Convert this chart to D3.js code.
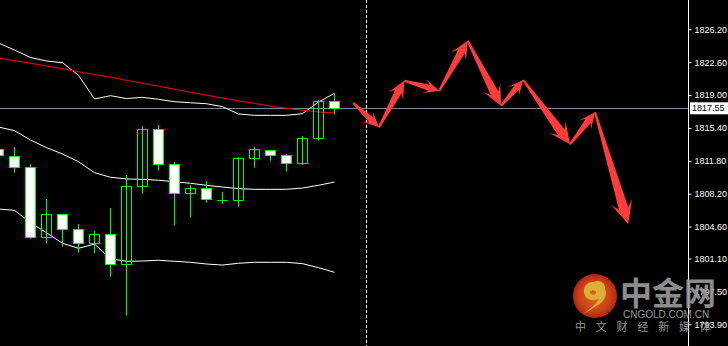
<!DOCTYPE html>
<html>
<head>
<meta charset="utf-8">
<script src="https://cdn.jsdelivr.net/npm/d3@7"></script>
<style>
  body { margin: 0; background: #000; }
  svg { display: block; }
</style>
</head>
<body>
<div id="chart"></div>
<script>
var width = 728,
  height = 346,
  axisX = 688.5;

// hourly bars, oldest first
var opens  = [1813.06, 1812.29, 1811.09, 1803.43, 1805.94, 1804.30, 1802.83, 1803.79, 1800.55, 1809.04, 1815.25,
              1811.42, 1808.24, 1808.79, 1807.54, 1807.48, 1812.08, 1812.95, 1812.40, 1811.53, 1814.27, 1818.32];
var highs  = [1813.20, 1813.31, 1811.42, 1807.62, 1805.94, 1804.88, 1804.12, 1806.63, 1810.25, 1815.61, 1815.72,
              1811.67, 1809.12, 1809.59, 1808.39, 1812.19, 1813.31, 1812.95, 1812.55, 1814.52, 1818.46, 1819.19];
var lows   = [1812.22, 1810.50, 1803.27, 1802.77, 1802.40, 1801.74, 1801.67, 1799.11, 1794.84, 1808.20, 1810.72,
              1804.70, 1805.57, 1807.21, 1807.10, 1806.78, 1811.05, 1811.81, 1810.61, 1811.37, 1814.00, 1816.85];
var closes = [1812.40, 1811.09, 1803.43, 1805.94, 1804.30, 1802.83, 1803.79, 1800.47, 1809.04, 1815.25, 1811.42,
              1808.24, 1808.79, 1807.59, 1807.54, 1812.08, 1813.06, 1812.40, 1811.53, 1814.27, 1818.32, 1817.55];

// bollinger bands + long moving average, one value per bar
var bandUpper = [1824.70, 1823.93, 1823.11, 1822.73, 1822.54, 1821.16, 1818.57, 1818.93, 1818.62, 1818.75, 1818.54,
                 1818.27, 1818.16, 1818.05, 1817.73, 1816.93, 1816.78, 1816.78, 1816.78, 1816.96, 1818.24, 1819.19];
var bandMid   = [1815.50, 1815.10, 1814.08, 1813.24, 1812.55, 1811.70, 1810.50, 1810.00, 1809.81, 1809.78, 1809.67,
                 1809.51, 1809.34, 1809.12, 1808.93, 1808.75, 1808.68, 1808.68, 1808.68, 1808.82, 1809.12, 1809.48];
var bandLower = [1806.52, 1806.38, 1805.03, 1803.93, 1802.77, 1802.22, 1802.69, 1801.08, 1800.80, 1800.83, 1800.91,
                 1800.80, 1800.69, 1800.50, 1800.39, 1800.58, 1800.69, 1800.69, 1800.69, 1800.54, 1800.10, 1799.59];
var maRed     = [1823.06, 1822.76, 1822.48, 1822.18, 1821.88, 1821.56, 1821.25, 1820.94, 1820.62, 1820.29, 1819.96,
                 1819.63, 1819.30, 1818.98, 1818.68, 1818.37, 1818.08, 1817.80, 1817.55, 1817.33, 1817.14, 1817.04];

var lastPrice = 1817.55;
var priceTicks = [1826.20, 1822.60, 1819.00, 1815.40, 1811.80, 1808.20, 1804.60, 1801.10, 1797.50, 1793.90];
var separatorBar = 23;

// hand drawn forecast zigzag (bar position, price)
var forecastBars   = [22.16, 23.78, 25.36, 27.55, 29.32, 31.41, 32.80, 35.72, 37.28, 39.36];
var forecastPrices = [1818.16, 1815.47, 1820.57, 1819.48, 1824.95, 1817.83, 1820.65, 1813.61, 1817.11, 1804.88];

var svg = d3.select("#chart").append("svg")
  .attr("width", width)
  .attr("height", height)
  .style("background", "#000");

var x = d3.scaleLinear().domain([0, 1]).range([-1.5, 14.5]);
var y = d3.scaleLinear().domain([1793.9, 1826.2]).range([324.3, 29.3]);

var plot = svg.append("g");

// current price line
plot.append("line")
  .attr("x1", 0).attr("x2", axisX)
  .attr("y1", Math.round(y(lastPrice)) + 0.5).attr("y2", Math.round(y(lastPrice)) + 0.5)
  .attr("stroke", "#778899")
  .attr("stroke-width", 1);

// time separator
plot.append("line")
  .attr("x1", x(separatorBar)).attr("x2", x(separatorBar))
  .attr("y1", 0).attr("y2", height)
  .attr("stroke", "#fff")
  .attr("stroke-dasharray", "3,2");

var line = d3.line()
  .x(function(d, i) { return x(i); })
  .y(function(d) { return y(d); });

[bandUpper, bandMid, bandLower].forEach(function(band) {
  plot.append("path")
    .attr("d", line(band))
    .attr("fill", "none")
    .attr("stroke", "#fff")
    .attr("stroke-width", 1);
});

plot.append("path")
  .attr("d", line(maRed))
  .attr("fill", "none")
  .attr("stroke", "#ff0000")
  .attr("stroke-width", 1);

// candles
var bars = d3.range(opens.length);

var candle = plot.selectAll("g.candle")
  .data(bars)
  .enter().append("g")
  .attr("class", "candle");

candle.append("line")
  .attr("x1", function(i) { return x(i); })
  .attr("x2", function(i) { return x(i); })
  .attr("y1", function(i) { return y(highs[i]); })
  .attr("y2", function(i) { return y(lows[i]); })
  .attr("stroke", "#00ff00")
  .attr("stroke-width", 1);

candle.append("path")
  .attr("d", function(i) {
    var top = Math.round(y(Math.max(opens[i], closes[i]))) + 0.5,
      bot = Math.round(y(Math.min(opens[i], closes[i]))) + 0.5,
      x0 = x(i) - 5, x1 = x(i) + 5;
    return "M" + x0 + "," + top + "H" + x1 + "V" + bot + "H" + x0 + "Z";
  })
  .attr("fill", function(i) { return closes[i] < opens[i] ? "#fff" : "none"; })
  .attr("stroke", "#00ff00")
  .attr("stroke-width", 1);

// forecast arrows
function arrowShape(x0, y0, x1, y1) {
  var dx = x1 - x0, dy = y1 - y0,
    len = Math.sqrt(dx * dx + dy * dy),
    ux = dx / len, uy = dy / len, nx = -uy, ny = ux;
  var hl = Math.min(23, 10 + 0.14 * len),
    hw = hl * 0.47,
    sw = hl * 0.21;
  function p(u, v) { return [x0 + ux * u + nx * v, y0 + uy * u + ny * v]; }
  return [p(0, 1), p(len - hl * 0.7, sw), p(len - hl, hw), p(len, 0),
          p(len - hl, -hw), p(len - hl * 0.7, -sw), p(0, -1)];
}

var arrows = d3.range(forecastBars.length - 1);
plot.selectAll("path.arrow")
  .data(arrows)
  .enter().append("path")
  .attr("class", "arrow")
  .attr("d", function(i) {
    var pts = arrowShape(x(forecastBars[i]), y(forecastPrices[i]),
                         x(forecastBars[i + 1]), y(forecastPrices[i + 1]));
    return "M" + pts.join("L") + "Z";
  })
  .attr("fill", "#ff3c3c");

// price axis
svg.append("line")
  .attr("x1", axisX).attr("x2", axisX)
  .attr("y1", 0).attr("y2", height)
  .attr("stroke", "#fff");

var axis = svg.append("g")
  .attr("transform", "translate(" + axisX + ",0)")
  .call(d3.axisRight(y)
    .tickValues(priceTicks)
    .tickFormat(d3.format(".2f"))
    .tickSize(3)
    .tickPadding(3));

axis.select(".domain").remove();
axis.selectAll(".tick line").attr("stroke", "#fff");
axis.selectAll(".tick text")
  .attr("fill", "#fff")
  .style("font-family", "'Liberation Sans', Arial, sans-serif")
  .style("font-size", "9px");

// last price tag
var tagY = y(lastPrice);
svg.append("rect")
  .attr("x", 690).attr("y", tagY - 6)
  .attr("width", 38).attr("height", 12)
  .attr("fill", "#fff");
svg.append("text")
  .attr("x", 692).attr("y", tagY)
  .attr("dy", "0.35em")
  .attr("fill", "#000")
  .style("font-family", "'Liberation Sans', Arial, sans-serif")
  .style("font-size", "9px")
  .text(d3.format(".2f")(lastPrice));

// watermark
var defs = svg.append("defs");
var grad = defs.append("radialGradient").attr("id", "logoGrad");
grad.append("stop").attr("offset", "0%").attr("stop-color", "#f07a22");
grad.append("stop").attr("offset", "70%").attr("stop-color", "#e04a1c");
grad.append("stop").attr("offset", "100%").attr("stop-color", "#c42a14");

var mark = svg.append("g").attr("opacity", 0.9);

mark.append("circle")
  .attr("cx", 595).attr("cy", 296).attr("r", 22)
  .attr("fill", "url(#logoGrad)");

mark.append("path")
  .attr("d", "M586,297 C581,290 586,281 594,282 C599,279 606,283 605,289 C608,296 603,303 596,306 C592,309 587,312 583,314 C590,309 597,304 599,298 C596,301 590,301 586,297 Z M590,292 C590,295 595,296 596,293 C597,290 591,289 590,292 Z")
  .attr("fill", "#f6c23c")
  .attr("fill-rule", "evenodd");

mark.append("text")
  .attr("x", 620).attr("y", 305)
  .attr("fill", "#9c9c9c")
  .style("font-family", "'Noto Sans CJK SC', sans-serif")
  .style("font-weight", "bold")
  .style("font-size", "32px")
  .text("中金网");

mark.append("text")
  .attr("x", 623).attr("y", 318)
  .attr("fill", "#a8a8a8")
  .style("font-family", "'Liberation Sans', Arial, sans-serif")
  .style("font-size", "10px")
  .text("CNGOLD.COM.CN");

var slogan = ["中", "文", "财", "经", "新", "媒", "体"];
mark.selectAll("text.slogan")
  .data(slogan)
  .enter().append("text")
  .attr("class", "slogan")
  .attr("x", function(d, i) { return 575 + i * 20.8; })
  .attr("y", 331)
  .attr("fill", "#a8a8a8")
  .style("font-family", "'Noto Sans CJK SC', sans-serif")
  .style("font-size", "11px")
  .text(function(d) { return d; });
</script>
</body>
</html>
